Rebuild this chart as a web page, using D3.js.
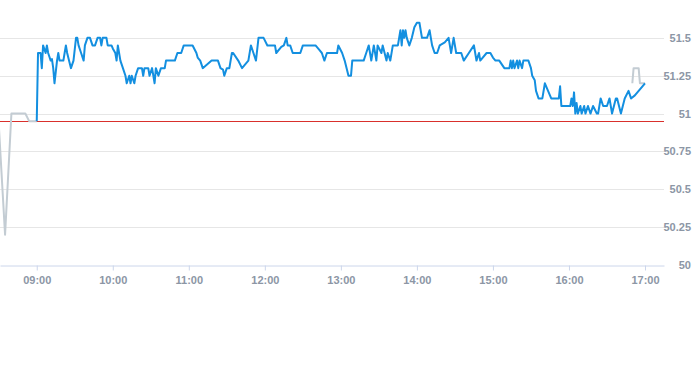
<!DOCTYPE html>
<html>
<head>
<meta charset="utf-8">
<script src="https://cdn.jsdelivr.net/npm/d3@7"></script>
<style>
  body { margin: 0; background: #fff; }
  .tick-label { font-family: "Liberation Sans", Arial, sans-serif; font-size: 11px; font-weight: bold; fill: #8c96a5; }
</style>
</head>
<body>
<div id="chart"></div>
<script>
// price data
var preMarket = [["08:30", 50.93], ["08:35", 50.20], ["08:40", 51.00], ["08:51", 51.00], ["08:54", 50.95], ["09:00", 50.95]];

var postMarket = [["16:50", 51.20], ["16:51", 51.30], ["16:55", 51.30], ["16:56", 51.20], ["17:00", 51.20]];

var session = [
  ["09:00", 50.95], ["09:01", 51.40], ["09:03", 51.40], ["09:04", 51.30], ["09:05", 51.45], ["09:07", 51.40],
  ["09:08", 51.45], ["09:09", 51.40], ["09:11", 51.35], ["09:12", 51.36], ["09:13", 51.30], ["09:14", 51.20],
  ["09:16", 51.35], ["09:17", 51.40], ["09:18", 51.35], ["09:21", 51.35], ["09:22", 51.40], ["09:23", 51.45],
  ["09:24", 51.40], ["09:27", 51.30], ["09:29", 51.35], ["09:31", 51.50], ["09:32", 51.50], ["09:33", 51.45],
  ["09:35", 51.40], ["09:37", 51.35], ["09:38", 51.45], ["09:40", 51.50], ["09:42", 51.50], ["09:44", 51.45],
  ["09:46", 51.45], ["09:48", 51.50], ["09:50", 51.50], ["09:51", 51.45], ["09:52", 51.50], ["09:55", 51.50],
  ["09:56", 51.45], ["09:59", 51.45], ["10:00", 51.43], ["10:02", 51.40], ["10:03", 51.35], ["10:04", 51.45],
  ["10:06", 51.35], ["10:08", 51.30], ["10:10", 51.25], ["10:11", 51.20], ["10:13", 51.25], ["10:14", 51.20],
  ["10:15", 51.25], ["10:17", 51.20], ["10:18", 51.25], ["10:20", 51.30], ["10:23", 51.30], ["10:24", 51.25],
  ["10:25", 51.30], ["10:28", 51.30], ["10:29", 51.25], ["10:31", 51.30], ["10:33", 51.20], ["10:34", 51.30],
  ["10:36", 51.25], ["10:38", 51.30], ["10:41", 51.30], ["10:42", 51.35], ["10:49", 51.35], ["10:51", 51.40],
  ["10:54", 51.40], ["10:56", 51.45], ["11:03", 51.45], ["11:06", 51.40], ["11:07", 51.37], ["11:09", 51.35],
  ["11:11", 51.30], ["11:18", 51.35], ["11:23", 51.35], ["11:25", 51.30], ["11:27", 51.29], ["11:28", 51.25],
  ["11:30", 51.30], ["11:32", 51.30], ["11:34", 51.40], ["11:35", 51.40], ["11:39", 51.35], ["11:42", 51.30],
  ["11:44", 51.32], ["11:47", 51.35], ["11:49", 51.45], ["11:51", 51.40], ["11:53", 51.35], ["11:55", 51.50],
  ["11:59", 51.50], ["12:02", 51.45], ["12:08", 51.45], ["12:09", 51.40], ["12:13", 51.44], ["12:15", 51.45],
  ["12:17", 51.50], ["12:18", 51.45], ["12:20", 51.45], ["12:22", 51.40], ["12:28", 51.40], ["12:30", 51.45],
  ["12:40", 51.45], ["12:43", 51.42], ["12:45", 51.40], ["12:47", 51.35], ["12:49", 51.40], ["12:57", 51.40],
  ["12:58", 51.45], ["13:01", 51.40], ["13:03", 51.35], ["13:06", 51.25], ["13:08", 51.25], ["13:09", 51.35],
  ["13:18", 51.35], ["13:20", 51.40], ["13:22", 51.45], ["13:24", 51.35], ["13:26", 51.45], ["13:28", 51.35],
  ["13:29", 51.45], ["13:32", 51.40], ["13:33", 51.45], ["13:36", 51.35], ["13:37", 51.40], ["13:39", 51.35],
  ["13:41", 51.45], ["13:45", 51.45], ["13:47", 51.55], ["13:48", 51.45], ["13:49", 51.55], ["13:50", 51.50],
  ["13:51", 51.55], ["13:52", 51.50], ["13:54", 51.45], ["13:56", 51.50], ["13:58", 51.57], ["14:00", 51.60],
  ["14:02", 51.60], ["14:04", 51.50], ["14:08", 51.50], ["14:10", 51.55], ["14:11", 51.50], ["14:12", 51.45],
  ["14:14", 51.40], ["14:16", 51.40], ["14:18", 51.45], ["14:22", 51.47], ["14:25", 51.50], ["14:26", 51.45],
  ["14:27", 51.40], ["14:29", 51.50], ["14:31", 51.40], ["14:35", 51.40], ["14:37", 51.35], ["14:41", 51.40],
  ["14:45", 51.45], ["14:46", 51.40], ["14:47", 51.35], ["14:49", 51.40], ["14:50", 51.35], ["14:55", 51.40],
  ["14:58", 51.40], ["15:00", 51.37], ["15:02", 51.35], ["15:05", 51.35], ["15:09", 51.30], ["15:13", 51.30],
  ["15:14", 51.35], ["15:15", 51.30], ["15:16", 51.35], ["15:17", 51.30], ["15:19", 51.35], ["15:20", 51.30],
  ["15:21", 51.35], ["15:23", 51.30], ["15:24", 51.35], ["15:28", 51.35], ["15:30", 51.30], ["15:31", 51.25],
  ["15:33", 51.22], ["15:34", 51.15], ["15:36", 51.10], ["15:39", 51.10], ["15:41", 51.20], ["15:44", 51.14],
  ["15:46", 51.10], ["15:52", 51.10], ["15:53", 51.18], ["15:54", 51.05], ["16:01", 51.05], ["16:02", 51.10],
  ["16:03", 51.05], ["16:04", 51.14], ["16:05", 51.00], ["16:06", 51.07], ["16:07", 51.00], ["16:09", 51.05],
  ["16:10", 51.00], ["16:12", 51.05], ["16:13", 51.00], ["16:15", 51.05], ["16:17", 51.00], ["16:19", 51.05],
  ["16:22", 51.00], ["16:23", 51.00], ["16:25", 51.10], ["16:27", 51.05], ["16:30", 51.05], ["16:32", 51.10],
  ["16:34", 51.00], ["16:37", 51.10], ["16:38", 51.10], ["16:41", 51.00], ["16:44", 51.10], ["16:47", 51.15],
  ["16:49", 51.10], ["16:52", 51.12], ["17:00", 51.20]
];

var prevClose = 50.95;
var yTicks = [50, 50.25, 50.5, 50.75, 51, 51.25, 51.5];
var xTicks = ["09:00", "10:00", "11:00", "12:00", "13:00", "14:00", "15:00", "16:00", "17:00"];
var timeRange = ["08:31", "17:15"];
var priceRange = [50, 51.75];

var width = 693, height = 365;
var plotW = 664, plotH = 265;

var parseTime = d3.timeParse("%H:%M");

var svg = d3.select("#chart")
  .append("svg")
    .attr("width", width)
    .attr("height", height);

var x = d3.scaleTime()
  .domain(timeRange.map(parseTime))
  .range([0, plotW]);

var y = d3.scaleLinear()
  .domain(priceRange)
  .range([plotH, 0]);

// horizontal grid
svg.append("g")
  .selectAll("line")
  .data(yTicks.slice(1))
  .enter()
  .append("line")
    .attr("x1", 0)
    .attr("x2", plotW)
    .attr("y1", function(d) { return Math.round(y(d)) + 0.5; })
    .attr("y2", function(d) { return Math.round(y(d)) + 0.5; })
    .attr("stroke", "#e6e6e6")
    .attr("stroke-width", 1);

// y labels on the right
svg.append("g")
  .selectAll("text")
  .data(yTicks)
  .enter()
  .append("text")
    .attr("class", "tick-label")
    .attr("x", 691)
    .attr("y", function(d) { return y(d) + 4; })
    .attr("text-anchor", "end")
    .text(function(d) { return d3.format("")(d); });

// x axis
var xAxis = d3.axisBottom(x)
  .tickValues(xTicks.map(parseTime))
  .tickFormat(d3.timeFormat("%H:%M"))
  .tickSize(5)
  .tickSizeOuter(0);

var gx = svg.append("g")
  .attr("transform", "translate(0," + (plotH + 0.5) + ")")
  .call(xAxis);
gx.select(".domain").attr("stroke", "#ccd6eb");
gx.selectAll(".tick line").attr("stroke", "#ccd6eb");
gx.selectAll(".tick text")
  .attr("class", "tick-label")
  .attr("dy", null)
  .attr("y", 18);

// previous close
svg.append("line")
  .attr("x1", 0)
  .attr("x2", plotW)
  .attr("y1", Math.round(y(prevClose)) + 0.5)
  .attr("y2", Math.round(y(prevClose)) + 0.5)
  .style("stroke", "#d9302c")
  .style("stroke-width", 1.2);

var line = d3.line()
  .x(function(d) { return x(parseTime(d[0])); })
  .y(function(d) { return y(d[1]); });

[preMarket, postMarket].forEach(function(s) {
  svg.append("path")
    .datum(s)
    .attr("fill", "none")
    .attr("stroke", "#c3ccd3")
    .attr("stroke-width", 2)
    .attr("stroke-linejoin", "round")
    .attr("d", line);
});

svg.append("path")
  .datum(session)
  .attr("fill", "none")
  .attr("stroke", "#138fe0")
  .attr("stroke-width", 2)
  .attr("stroke-linejoin", "round")
  .attr("d", line);
</script>
</body>
</html>
